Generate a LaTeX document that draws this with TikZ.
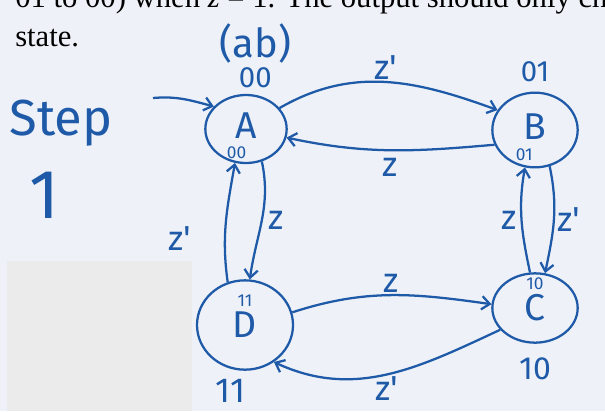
\documentclass[tikz,border=0pt]{standalone}
\usepackage{fontspec}
\setmainfont{Liberation Serif}
\newfontfamily\handfont{Fira Sans}
\usetikzlibrary{positioning,shapes.geometric,arrows.meta}
\definecolor{ink}{HTML}{1F5AA8}
\definecolor{paper}{HTML}{EEF2F8}
\definecolor{scan}{HTML}{EBEBEC}

\begin{document}
\begin{tikzpicture}[x=0.75pt, y=-0.75pt, >={Straight Barb[length=6pt,width=10pt]},
		state/.style={ellipse, draw=ink, line width=1.7pt, inner sep=0pt, text=ink,
			font=\handfont\fontsize{28}{28}\selectfont},
		edge/.style={->, draw=ink, line width=1.7pt},
		hand/.style={text=ink, inner sep=1pt, font=\handfont\fontsize{#1}{#1}\selectfont},
		lbl/.style={hand=26},
		print/.style={inner sep=0pt, font=\fontsize{23}{23}\selectfont}]
		\fill[paper] (0,0) rectangle (605,411);
		\fill[scan] (7,261) rectangle (192,411);
		\useasboundingbox (0,0) rectangle (605,411);
		
		% printed text of the exercise
		\node[print, anchor=base west] (head) at (15,7) {01 to 00) when \textit{z} = 1. The output should only change};
		\node[print, anchor=base west] (tail) at (15,46) {state.};
		
		% the four states
		\node[state, text depth=5pt, minimum width=61pt, minimum height=51pt] (A) at (246,129) {A};
		\node[state, text depth=5pt, minimum width=64pt, minimum height=56pt] (B) at (535,130) {B};
		\node[state, minimum width=64pt, minimum height=52pt] (C) at (535,308) {C};
		\node[state, minimum width=72pt, minimum height=67pt] (D) at (245,325) {D};
		
		\node[hand=13, below=12pt of A.center, xshift=-7pt] (inA) {00};
		\node[hand=13, below=13pt of B.center, xshift=-8pt] (inB) {01};
		\node[hand=13, above=12.5pt of C.center] (inC) {10};
		\node[hand=13, above=13pt of D.center] (inD) {11};
		
		\node[hand=22, above=3pt of A, xshift=7pt] (codeA) {00};
		\node[hand=30, above=1pt of codeA] (ab) {(ab)};
		\node[hand=22, above=6pt of B] (codeB) {01};
		\node[hand=24, below=9pt of C] (codeC) {10};
		\node[hand=26, below=5pt of D, xshift=-11pt] (codeD) {11};
		
		\node[hand=38, anchor=base west] (step) at (8,135) {Step};
		\node[hand=52, anchor=base] (one) at (45,218) {1};
		\coordinate (start) at (153,98);
		
		% transitions
		\draw[edge] (start) to[out=5, in=165] (A.145);
		\draw[edge] (A.32) to[out=30, in=160] node[lbl, above] {z'} (B.152);
		\draw[edge] (B.200) to[out=185, in=-12] node[lbl, below=4pt] {z} (A.-12);
		\draw[edge] (D.15) to[out=18, in=172] node[lbl, above] {z} (C.175);
		\draw[edge] (C.212) to[out=205, in=-25] node[lbl, below=0pt] {z'} (D.-52);
		\draw[edge] (A.-64) to[out=-78, in=82] node[lbl, right=3pt] {z} (D.84);
		\draw[edge] (D.112) to[out=98, in=-100] node[lbl, left=24pt, yshift=-12pt] {z'} (A.-108);
		\draw[edge] (C.98) to[out=102, in=-100] node[lbl, left=2pt] {z} (B.-105);
		\draw[edge] (B.-68) to[out=-78, in=78] node[lbl, right=1pt] {z'} (C.74);
	\end{tikzpicture}
\end{document}
